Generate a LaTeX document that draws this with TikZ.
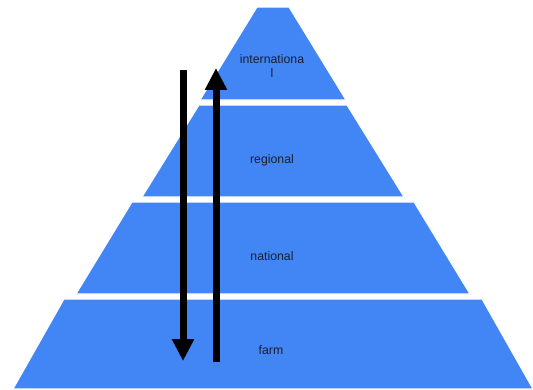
\documentclass[tikz,border=0pt]{standalone}
\usepackage{fontspec}
\setsansfont{Liberation Sans}
\usetikzlibrary{arrows.meta}
\definecolor{tierblue}{HTML}{4285F4}
\definecolor{labeltext}{HTML}{1A1F2E}

\begin{document}
\begin{tikzpicture}[
    x=0.02cm, y=-0.02cm,
    tier/.style={
        fill=tierblue, draw=white, line width=0.6pt, line join=round
    },
    tierlabel/.style={
        font=\sffamily\fontsize{7}{8}\selectfont, text=labeltext,
        align=center, inner sep=0pt
    },
    flowarrow/.style={
        line width=0.14cm, draw=black,
        -{Triangle[length=0.44cm, width=0.42cm]}
    },
]

% === Canvas ===
\useasboundingbox (0,0) rectangle (533,389);

% === Pyramid tiers (top y / top half-width / bottom y / bottom half-width), centre x = 273 ===
\foreach \ya/\ha/\yb/\hb in {7/16/100/73, 105/74/197/131, 202/141/294/197, 299/209/389/260} {
    \fill[tier] (273-\ha,\ya) -- (273+\ha,\ya) -- (273+\hb,\yb) -- (273-\hb,\yb) -- cycle;
}

% === Tier labels ===
\node[tierlabel] (intl) at (272,66) {internationa\\l};
\node[tierlabel] (regl) at (272,160) {regional};
\node[tierlabel] (natl) at (272,256) {national};
\node[tierlabel] (farm) at (271,350) {farm};

% === Arrows ===
\coordinate (downstart) at (183,70);
\coordinate (downend) at (183,361);
\coordinate (upstart) at (216,362);
\coordinate (upend) at (216,68);

\draw[flowarrow] (downstart) -- (downend);
\draw[flowarrow] (upstart) -- (upend);

\end{tikzpicture}
\end{document}
